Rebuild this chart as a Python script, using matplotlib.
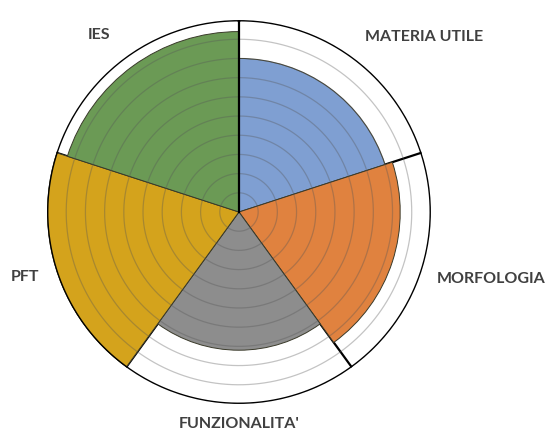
import numpy as np
import matplotlib
matplotlib.use("Agg")
import matplotlib.pyplot as plt

# categories clockwise from the top
categories = ["MATERIA UTILE", "MORFOLOGIA", "FUNZIONALITA'", "PFT", "IES"]
scores = [8.0, 8.4, 7.2, 10.0, 9.4]
colors = ["#7f9fd2", "#e0823f", "#8d8d8d", "#d4a31c", "#6b9a55"]
max_score = 10

# label placement (angle clockwise from north in degrees, radius in score units)
label_angles = [46.6, 104.9, 180.0, 253.1, 321.7]
label_radii = [13.3, 13.6, 11.05, 11.65, 11.75]

fig = plt.figure(figsize=(5.5, 4.34), dpi=100)
ax = fig.add_axes([0.0855, 0.069, 0.698, 0.885], projection="polar")
ax.set_theta_zero_location("N")
ax.set_theta_direction(-1)

n = len(categories)
width = 2 * np.pi / n
theta = np.arange(n) * width + width / 2

ax.bar(theta, scores, width=width, color=colors, edgecolor="#3a3a2a",
       linewidth=0.7, zorder=2)

# concentric grid rings drawn over the wedges
ring_t = np.linspace(0, 2 * np.pi, 400)
for r in range(1, max_score):
    ax.plot(ring_t, np.full_like(ring_t, r), color="#555555", lw=0.9,
            alpha=0.35, zorder=3)
ax.plot(ring_t, np.full_like(ring_t, max_score), color="black", lw=2.0,
        zorder=4)

# sector boundaries: behind the wedges, except the top one
for k in range(n):
    ax.plot([k * width, k * width], [0, max_score], color="black", lw=1.6,
            zorder=4 if k == 0 else 1)

for lab, a, r in zip(categories, label_angles, label_radii):
    ax.text(np.deg2rad(a), r, lab, ha="center", va="center", fontsize=11.5,
            fontweight="bold", family=["Lato", "DejaVu Sans"],
            color="#404040", clip_on=False)

ax.set_ylim(0, max_score)
ax.set_xticks([])
ax.set_yticks([])
ax.grid(False)
ax.spines["polar"].set_visible(False)

fig.savefig("out.png", dpi=100)
